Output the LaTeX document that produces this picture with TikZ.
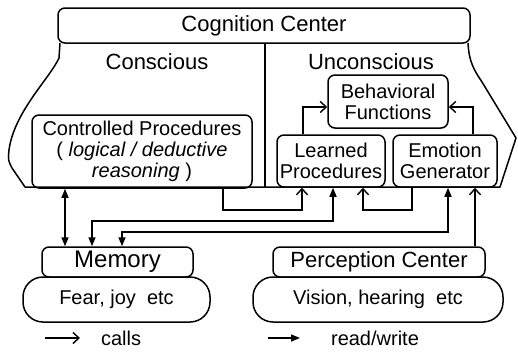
\documentclass[tikz,border=0pt]{standalone}
\usepackage{fontspec}
\setmainfont{Liberation Sans}
\usetikzlibrary{arrows.meta}
\begin{document}
\begin{tikzpicture}[x=1pt,y=-1pt,
  line width=1.5pt,
  box/.style={draw,rounded corners=7pt,inner sep=0pt,align=center,anchor=center},
  pod/.style={draw,rounded corners=20pt,inner sep=0pt,align=center,anchor=center},
  callsarr/.style={-{Straight Barb[length=6pt,width=11pt,line width=1.4pt]}},
  rwone/.style={-{Triangle[length=9pt,width=7pt]}},
  rwtwo/.style={{Triangle[length=9pt,width=7pt]}-{Triangle[length=9pt,width=7pt]}},
  big/.style={font=\fontsize{22}{24}\selectfont},
  mid/.style={font=\fontsize{20}{21}\selectfont},
]
\useasboundingbox (0,0) rectangle (518,354);

% Cognition center
\node[box,big,minimum width=412pt,minimum height=35pt] (cog) at (264,25.5) {Cognition Center};

% body outline
\draw[line join=round] (60,43) -- (59,58) .. controls (50,78) and (14,112) .. (9,150)
  .. controls (8,160) .. (12,168) -- (25,187) -- (500,187) -- (516,138)
  -- (482,82) .. controls (474,70) and (469,62) .. (468,43);
\coordinate (divtop) at (265,43);
\coordinate (divbot) at (265,187);
\draw (divtop) -- (divbot);

\node[big] (cons) at (157,62) {Conscious};
\node[big] (uncons) at (371,62) {Unconscious};

\node[box,mid,minimum width=220pt,minimum height=73pt] (ctrl) at (142,151.5)
  {Controlled Procedures\\( \textit{logical / deductive}\\\textit{reasoning} )};
\node[box,mid,minimum width=120pt,minimum height=53pt] (beh) at (388,101.5)
  {Behavioral\\Functions};
\node[box,mid,minimum width=108pt,minimum height=52pt] (learn) at (331,161)
  {Learned\\Procedures};
\node[box,mid,minimum width=104pt,minimum height=52pt] (emo) at (445,161)
  {Emotion\\Generator};

% memory
\node[box,font=\fontsize{24}{26}\selectfont,minimum width=151pt,minimum height=30pt] (mem) at (117.5,262) {Memory};
\node[pod,mid,minimum width=187pt,minimum height=45pt] (fear) at (116.5,299.5) {Fear, joy\ \ etc};
% perception
\node[box,big,minimum width=212pt,minimum height=30pt] (perc) at (379,262) {Perception Center};
\node[pod,mid,minimum width=250pt,minimum height=45pt] (vis) at (378,299.5) {Vision, hearing\ \ etc};

% connectors within cognition
\draw[callsarr] (learn.north -| 303,0) |- (beh.west |- 0,107);
\draw[callsarr] (emo.north -| 473,0) |- (beh.east |- 0,107);

% connectors below
\draw[rwtwo] (ctrl.south -| 65,0) -- (mem.north -| 65,0);
\draw[callsarr] (ctrl.south -| 223,0) -- (223,210) -| (learn.south -| 302,0);
\draw[rwtwo] (mem.north -| 92,0) -- (92,221) -| (learn.south -| 333,0);
\draw[callsarr] (emo.south -| 412,0) -- (412,210) -| (learn.south -| 363,0);
\draw[rwtwo] (mem.north -| 122,0) -- (122,232) -| (emo.south -| 448,0);
\draw[callsarr] (perc.north -| 475,0) -- (emo.south -| 475,0);

% legend
\coordinate (l1a) at (45,338);
\coordinate (l1b) at (80,338);
\draw[callsarr] (l1a) -- (l1b);
\node[mid,anchor=west] (lcalls) at (97,338) {calls};
\coordinate (l2a) at (268,338);
\coordinate (l2b) at (300,338);
\draw[rwone] (l2a) -- (l2b);
\node[mid,anchor=west] (lrw) at (327,338) {read/write};
\end{tikzpicture}
\end{document}
